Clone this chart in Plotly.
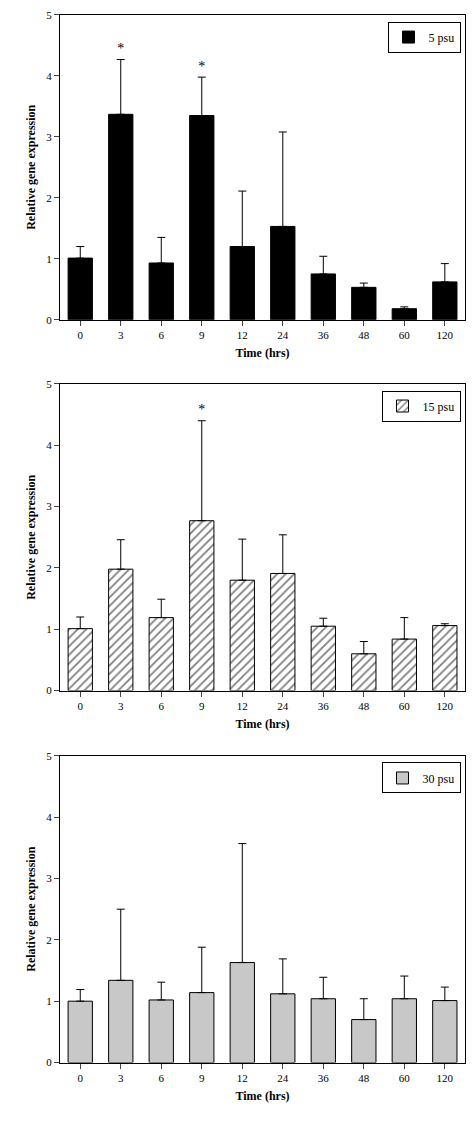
import plotly.graph_objects as go

times = ["0","3","6","9","12","24","36","48","60","120"]
v5 = [1.01,3.37,0.93,3.35,1.20,1.53,0.75,0.53,0.18,0.62]
e5 = [1.20,4.27,1.35,3.98,2.11,3.08,1.04,0.60,0.21,0.92]
s5 = ["","*","","*","","","","","",""]
v15 = [1.01,1.98,1.19,2.77,1.80,1.91,1.05,0.60,0.84,1.06]
e15 = [1.20,2.46,1.49,4.40,2.47,2.54,1.18,0.80,1.19,1.09]
s15 = ["","","","*","","","","","",""]
v30 = [1.00,1.34,1.02,1.14,1.63,1.12,1.04,0.70,1.04,1.01]
e30 = [1.19,2.50,1.31,1.88,3.57,1.69,1.39,1.04,1.41,1.23]
s30 = [""]*10
names = ["5 psu","15 psu","30 psu"]

font = "Liberation Serif"
W, H = 458, 1108
fig = go.Figure()
def py(px): return 1 - (px - 8) / H
doms = [(py(317),py(9)),(py(692),py(382)),(py(1068),py(758))]
xd = [(60-8)/W, (466-8)/W - 0.002]
panels = [(v5,e5,s5,"black",""),(v15,e15,s15,"white","/"),(v30,e30,s30,"#c8c8c8","")]
for i,((v,e,s,c,pat),nm) in enumerate(zip(panels,names)):
    k = "" if i==0 else str(i+1)
    fig.add_bar(x=times,y=v,name=nm,width=0.6,xaxis="x"+k,yaxis="y"+k,legend="legend"+k,
        marker=dict(color=c,line=dict(color="black",width=1),
                    pattern=dict(shape=pat,fgcolor="black",bgcolor="white",size=6,solidity=0.3) if pat else None),
        error_y=dict(type="data",symmetric=False,array=[a-b for a,b in zip(e,v)],arrayminus=[0]*10,
                     color="black",thickness=1,width=4))
    fig.add_scatter(x=times,y=[a+0.05 for a in e],text=s,mode="text",textposition="top center",
        textfont=dict(size=14,family=font,color=["black"]*10),showlegend=False,xaxis="x"+k,yaxis="y"+k)
    ax = dict(domain=xd,showline=True,linecolor="black",mirror=True,ticks="outside",
              tickfont=dict(family=font,size=11,color="black"),anchor="y"+k,
              title=dict(text="<b>Time (hrs)</b>",font=dict(family=font,size=12,color="black"),standoff=8))
    ay = dict(domain=list(doms[i]),range=[0,5],dtick=1,showline=True,linecolor="black",mirror=True,
              ticks="outside",showgrid=False,zeroline=False,anchor="x"+k,
              tickfont=dict(family=font,size=11,color="black"),
              title=dict(text="<b>Relative gene expression</b>",font=dict(family=font,size=12,color="black"),standoff=8))
    fig.update_layout(**{"xaxis"+k:ax,"yaxis"+k:ay,
        "legend"+k:dict(x=xd[1]-0.01,y=doms[i][1]-0.006,xanchor="right",yanchor="top",bordercolor="black",
                        borderwidth=1,bgcolor="white",font=dict(family=font,size=12,color="black"))})
fig.update_layout(width=W,height=H,margin=dict(l=0,r=0,t=0,b=0),plot_bgcolor="white",
                  paper_bgcolor="white",bargap=0.4)
fig.write_html("out.html")
